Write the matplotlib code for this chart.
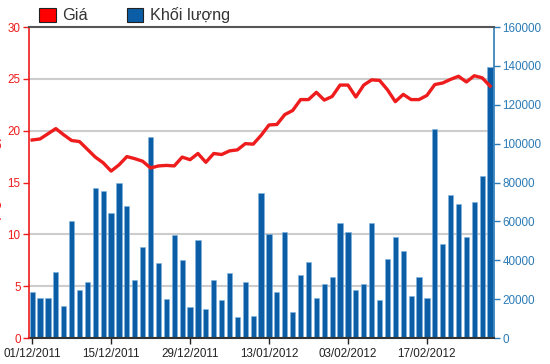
import matplotlib
matplotlib.use('Agg')
import matplotlib.pyplot as plt
from matplotlib.patches import Patch
from matplotlib.ticker import MultipleLocator

plt.rcParams['font.family'] = ['Liberation Sans', 'DejaVu Sans']

# Giá (left axis) and Khối lượng (right axis), one value per trading day
price = [19.1, 19.2, 19.7, 20.2, 19.6, 19.05, 18.95, 18.2, 17.45, 16.9,
         16.1, 16.7, 17.5, 17.3, 17.05, 16.4, 16.6, 16.65, 16.6, 17.45,
         17.2, 17.8, 16.95, 17.8, 17.7, 18.05, 18.15, 18.75, 18.7, 19.55,
         20.55, 20.6, 21.55, 21.95, 23.0, 23.0, 23.7, 22.95, 23.3, 24.4,
         24.4, 23.25, 24.4, 24.9, 24.85, 23.95, 22.8, 23.5, 23.0, 23.0,
         23.4, 24.45, 24.6, 24.95, 25.25, 24.7, 25.3, 25.1, 24.3]
volume = [23700, 20600, 20600, 34000, 16600, 60200, 24500, 28800, 77200, 75600,
          64100, 79700, 68000, 30000, 46800, 103200, 38600, 20100, 53200, 40000,
          15900, 50600, 14900, 29700, 19400, 33400, 10800, 29000, 11500, 74600,
          53400, 23700, 54600, 13400, 32600, 39300, 20600, 27600, 31400, 59200,
          54500, 24500, 27600, 59200, 19400, 40500, 51800, 44900, 21800, 31400,
          20600, 107500, 48200, 73700, 69100, 52000, 69800, 83300, 139500]
tick_pos = [0, 10, 20, 30, 40, 50]
tick_labels = ['01/12/2011', '15/12/2011', '29/12/2011',
               '13/01/2012', '03/02/2012', '17/02/2012']

red = '#ee1c1c'
blue = '#0b5ea5'
blue_txt = '#2c7bb6'

fig = plt.figure(figsize=(5.5, 3.64), dpi=100)
ax_v = fig.add_axes([0.0527, 0.0714, 0.8455, 0.8544])
ax_p = ax_v.twinx()

# volume bars, right axis
x = range(len(volume))
ax_v.bar(x, volume, width=0.66, color=blue, edgecolor='#7fb3e0', linewidth=0.4, zorder=2)
ax_v.set_ylim(0, 160000)
ax_v.set_xlim(-0.4, 58.5)
ax_v.yaxis.tick_right()
ax_v.set_yticks(range(0, 160001, 20000))
ax_v.yaxis.set_minor_locator(MultipleLocator(160000 / 6))
ax_v.grid(which='minor', axis='y', color='#cccccc', linewidth=1.5, zorder=0)
ax_v.set_axisbelow(True)
ax_v.tick_params(axis='y', which='minor', length=0)
ax_v.tick_params(axis='y', which='major', colors=blue_txt, labelsize=8.4, length=4, width=1, pad=2)
ax_v.set_xticks(tick_pos)
ax_v.set_xticklabels(tick_labels)
ax_v.tick_params(axis='x', colors='#222222', labelsize=8.4, length=4, width=1, pad=3)
for s in ['left', 'top']:
    ax_v.spines[s].set_visible(False)
ax_v.spines['right'].set_color(blue_txt)
ax_v.spines['right'].set_linewidth(1.2)
ax_v.spines['bottom'].set_color('#333333')
ax_v.spines['bottom'].set_linewidth(1.5)

# price line, left axis
ax_p.plot(x, price, color=red, linewidth=2.4, solid_joinstyle='round', zorder=3)
ax_p.set_ylim(0, 30)
ax_p.yaxis.tick_left()
ax_p.set_yticks(range(0, 31, 5))
ax_p.tick_params(axis='y', colors=red, labelsize=8.4, length=4, width=1, pad=2)
ax_p.spines['right'].set_visible(False)
ax_p.spines['bottom'].set_visible(False)
ax_p.spines['left'].set_color(red)
ax_p.spines['left'].set_linewidth(1.2)
ax_p.spines['top'].set_color('#555555')
ax_p.spines['top'].set_linewidth(1.5)

fig.text(-0.024, 0.47, 'Giá (nghìn đồng)', rotation=90, color=red, fontsize=11,
         ha='left', va='center')

handles = [Patch(facecolor='#ff0000', edgecolor='#222222', linewidth=0.8),
           Patch(facecolor=blue, edgecolor='#222222', linewidth=0.8)]
fig.legend(handles, ['Giá', 'Khối lượng'], loc='upper left', bbox_to_anchor=(0.045, 1.02),
           ncol=2, frameon=False, fontsize=11.7, handlelength=1.0, handleheight=1.0,
           handletextpad=0.4, columnspacing=2.4, labelcolor='#333333')

fig.savefig('out.png', dpi=100)
